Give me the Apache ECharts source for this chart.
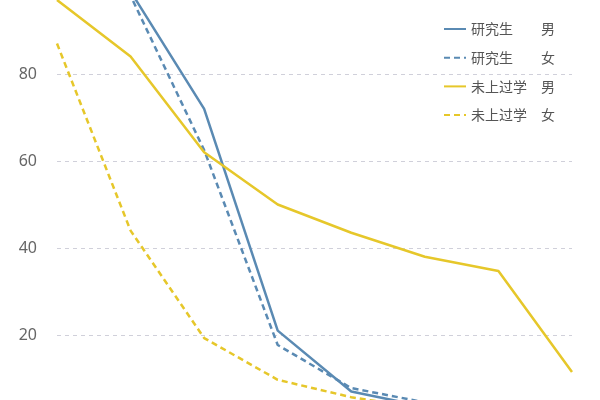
<!DOCTYPE html>
<html>
<head>
<meta charset="utf-8">
<script src="https://cdn.jsdelivr.net/npm/echarts@6/dist/echarts.min.js"></script>
<style>
  html,body{margin:0;padding:0;background:#fff;overflow:hidden;width:600px;height:400px;}
  #main{position:absolute;left:0;top:-13px;width:600px;height:435px;}
</style>
</head>
<body>
<div id="main"></div>
<script>
// 横轴分组（图中未显示标签）
var categories = ['1', '2', '3', '4', '5', '6', '7', '8'];
var yTicks = [0, 20, 40, 60, 80, 100];

// 各系列数值
var gradMale = [100, 99, 72, 21, 7, 3.5, 2, 1];
var gradFemale = [100, 98, 62.5, 17.7, 7.8, 4.5, 3, 2];
var noSchoolMale = [97, 84, 62, 50, 43.5, 38, 34.7, 11.5];
var noSchoolFemale = [87, 44, 19.3, 9.7, 5.7, 3, 2, 1];

var blue = '#5a8ab3';
var yellow = '#e6c72a';

var chart = echarts.init(document.getElementById('main'));

function makeLine(name, data, color, dashed) {
  return {
    name: name,
    type: 'line',
    data: data,
    symbol: 'none',
    smooth: false,
    lineStyle: { color: color, width: 2.5, type: dashed ? [6, 4] : 'solid' },
    itemStyle: { color: color }
  };
}

var option = {
  animation: false,
  backgroundColor: '#fff',
  grid: { left: 57, right: 28, top: 0, bottom: 0, containLabel: false, outerBoundsMode: 'none' },
  legend: {
    left: 438,
    top: 30,
    orient: 'vertical',
    itemWidth: 22,
    itemHeight: 14,
    itemGap: 14.7,
    itemStyle: { opacity: 0 },
    data: ['研究生|男', '研究生|女', '未上过学|男', '未上过学|女'],
    formatter: function (name) {
      var p = name.split('|');
      return '{a|' + p[0] + '}{b|' + p[1] + '}';
    },
    textStyle: {
      color: '#555',
      fontSize: 14,
      fontFamily: 'Noto Sans CJK SC',
      rich: {
        a: { width: 70, fontSize: 14, color: '#555', fontFamily: 'Noto Sans CJK SC' },
        b: { fontSize: 14, color: '#555', fontFamily: 'Noto Sans CJK SC' }
      }
    }
  },
  xAxis: {
    type: 'category',
    data: categories,
    boundaryGap: false,
    axisLine: { show: false },
    axisTick: { show: false },
    axisLabel: { show: false },
    splitLine: { show: false }
  },
  yAxis: {
    type: 'value',
    min: yTicks[0],
    max: yTicks[yTicks.length - 1],
    interval: 20,
    axisLine: { show: false },
    axisTick: { show: false },
    axisLabel: {
      color: '#666',
      fontSize: 16,
      margin: 20,
      fontFamily: 'Noto Sans'
    },
    splitLine: { lineStyle: { color: '#d0d0da', type: [4, 4], width: 1 } }
  },
  series: [
    makeLine('研究生|男', gradMale, blue, false),
    makeLine('研究生|女', gradFemale, blue, true),
    makeLine('未上过学|男', noSchoolMale, yellow, false),
    makeLine('未上过学|女', noSchoolFemale, yellow, true)
  ]
};

chart.setOption(option);
</script>
</body>
</html>
